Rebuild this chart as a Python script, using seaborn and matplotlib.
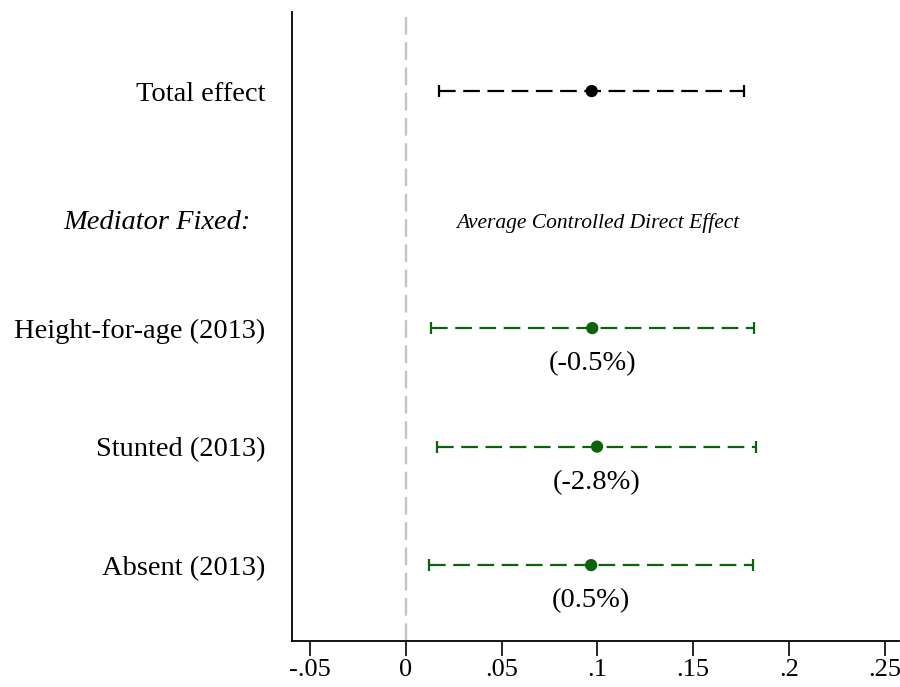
import matplotlib
matplotlib.use("Agg")
import matplotlib.pyplot as plt
import seaborn as sns
import pandas as pd

labels = ["Total effect", "Height-for-age (2013)", "Stunted (2013)", "Absent (2013)"]
ypos = [5.0, 3.0, 2.0, 1.0]
estimates = [0.097, 0.0973, 0.0998, 0.0967]
ci_low = [0.0172, 0.0129, 0.0162, 0.0120]
ci_high = [0.1766, 0.1818, 0.1829, 0.1813]
groups = ["total", "acde", "acde", "acde"]
pct_labels = ["", "(-0.5%)", "(-2.8%)", "(0.5%)"]
xticks = [-0.05, 0, 0.05, 0.1, 0.15, 0.2, 0.25]
xticklabels = ["-.05", "0", ".05", ".1", ".15", ".2", ".25"]
mediator_header = "Mediator Fixed:"
acde_header = "Average Controlled Direct Effect"
mediator_y = 3.89

df = pd.DataFrame({"label": labels, "y": ypos, "est": estimates,
                   "lo": ci_low, "hi": ci_high, "group": groups, "pct": pct_labels})

sns.set_theme(style="white")
plt.rcParams["font.family"] = ["Liberation Serif", "DejaVu Serif"]
plt.rcParams["text.color"] = "black"
plt.rcParams["xtick.color"] = "black"
plt.rcParams["ytick.color"] = "black"

fig = plt.figure(figsize=(9, 6.87), dpi=100)
ax = fig.add_axes([0.3244, 0.067, 0.6750, 0.9155])

palette = {"total": "#000000", "acde": "#0b640b"}

ax.axvline(0, color="#c4c4c4", lw=1.7, ls=(0, (7.5, 3.2)), zorder=1)

for _, r in df.iterrows():
    c = palette[r["group"]]
    eb = ax.errorbar([r["est"]], [r["y"]], xerr=[[r["est"] - r["lo"]], [r["hi"] - r["est"]]],
                     fmt="none", ecolor=c, elinewidth=1.6, capsize=4.4, capthick=1.6, zorder=2)
    eb[2][0].set_linestyle((0, (7.5, 3.4)))

sns.scatterplot(data=df, x="est", y="y", hue="group", palette=palette, s=78,
                edgecolor="none", legend=False, ax=ax, zorder=3)

for _, r in df.iterrows():
    if r["pct"]:
        ax.text(r["est"], r["y"] - 0.30, r["pct"], ha="center", va="center", fontsize=20.5)

ax.text(0.1, mediator_y, acde_header, ha="center", va="center",
        fontsize=15.5, style="italic")

ax.annotate(mediator_header, xy=(0, mediator_y), xycoords=("axes fraction", "data"),
            xytext=(-30, 0), textcoords="offset points", ha="right", va="center",
            fontsize=20.5, style="italic", annotation_clip=False)

ax.set_yticks(ypos)
ax.set_yticklabels(labels, fontsize=20.5)
ax.tick_params(axis="y", length=0, pad=19)

ax.set_xticks(xticks)
ax.set_xticklabels(xticklabels, fontsize=19)
ax.tick_params(axis="x", length=11, width=1.2, color="black", direction="out", pad=2, bottom=True)

ax.set_xlim(-0.0596, 0.2578)
ax.set_ylim(0.36, 5.667)
ax.set_xlabel("")
ax.set_ylabel("")
for s in ["top", "right"]:
    ax.spines[s].set_visible(False)
for s in ["left", "bottom"]:
    ax.spines[s].set_color("black")
    ax.spines[s].set_linewidth(1.3)

fig.savefig("out.png", dpi=100, facecolor="white")
